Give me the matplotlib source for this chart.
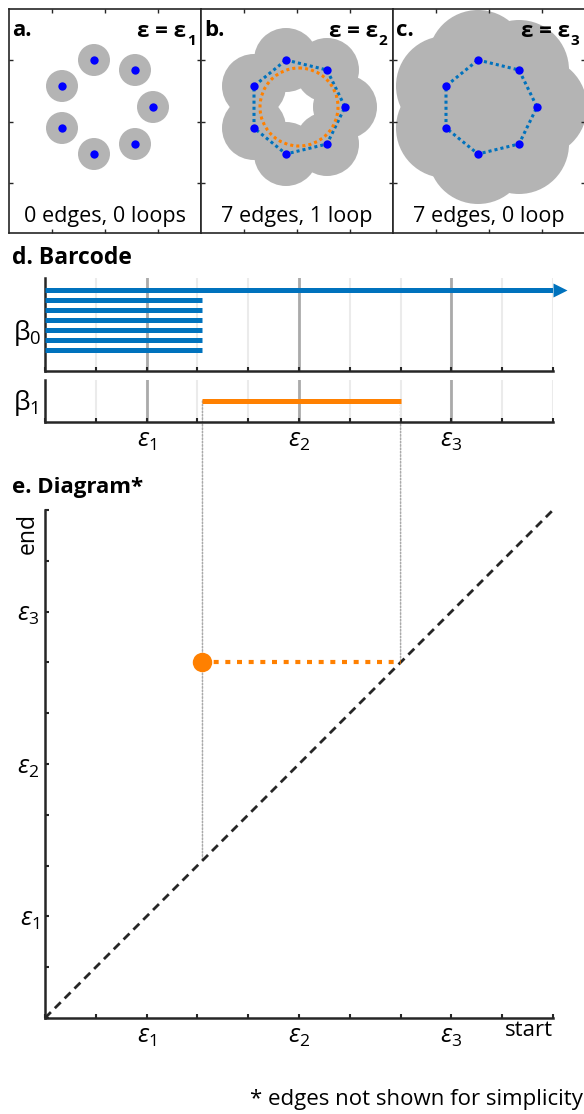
import numpy as np
import matplotlib
matplotlib.use("Agg")
import matplotlib.pyplot as plt
from matplotlib.patches import Circle, ConnectionPatch
from matplotlib.transforms import offset_copy

plt.rcParams['font.family'] = ['Open Sans', 'DejaVu Sans']
plt.rcParams['mathtext.fontset'] = 'custom'
plt.rcParams['mathtext.rm'] = 'Open Sans'
plt.rcParams['mathtext.it'] = 'Open Sans:italic'
plt.rcParams['mathtext.bf'] = 'Open Sans:bold'

W, H, DPI = 584, 1114, 100

# ---------------- data ----------------
# point cloud, in panel units (y grows downward)
cloud_x = [85, 126, 144, 126, 85, 53, 53]
cloud_y = [51, 61, 98, 135, 145, 119, 77]

# filtration scales shown in the three top panels
panel_tags = ['a.', 'b.', 'c.']
panel_eps = ['1', '2', '3']
ball_radius = [16, 32, 50]
panel_caption = ['0 edges, 0 loops', '7 edges, 1 loop', '7 edges, 0 loop']
panel_edges = [False, True, True]

# loop found at scale 2
loop_center = (98, 98)
loop_radius = 39

# persistence barcode / diagram on the filtration axis
filt_max = 10
eps_pos = [2, 5, 8]
eps_labels = [r'$\varepsilon_1$', r'$\varepsilon_2$', r'$\varepsilon_3$']
b0_birth = [0, 0, 0, 0, 0, 0, 0]
b0_death = [np.inf, 3.1, 3.1, 3.1, 3.1, 3.1, 3.1]
b1_birth = [3.1]
b1_death = [7.0]

# ---------------- style ----------------
BLUE = '#0072BD'
DOT = '#0000FF'
ORANGE = '#FF8000'
GREY = '#B4B4B4'
DARK = '#262626'
GUIDE = '#AAAAAA'
LIGHT = '#EBEBEB'

fig = plt.figure(figsize=(W / DPI, H / DPI), dpi=DPI)


def fbox(x0, y0, w, h):
    return [x0 / W, 1 - (y0 + h) / H, w / W, h / H]


def ftext(x, y, s, **kw):
    return fig.text(x / W, 1 - y / H, s, **kw)


# ---------------- a-c: growing balls ----------------
panel_left = [9, 201, 393]
for i in range(3):
    ax = fig.add_axes(fbox(panel_left[i], 9, 192, 224))
    ax.set_xlim(0, 192)
    ax.set_ylim(224, 0)
    for x, y in zip(cloud_x, cloud_y):
        ax.add_patch(Circle((x, y), ball_radius[i], facecolor=GREY, edgecolor='none', zorder=1))
    if panel_edges[i]:
        ax.plot(cloud_x + cloud_x[:1], cloud_y + cloud_y[:1], color=BLUE, lw=2.2,
                dashes=(1, 1), zorder=2)
    if i == 1:
        ax.add_patch(Circle(loop_center, loop_radius, fill=False, edgecolor=ORANGE,
                            lw=2.2, ls=(0, (1, 1)), zorder=2))
    ax.plot(cloud_x, cloud_y, 'o', color=DOT, ms=6, mec='none', zorder=3)
    ax.set_xticks([43, 96, 149])
    ax.set_yticks([51, 113, 174])
    ax.tick_params(direction='in', length=3, width=1, color=DARK, top=True, right=True,
                   labelbottom=False, labelleft=False)
    for s in ax.spines.values():
        s.set_color(DARK)
        s.set_linewidth(1.2)
    ax.text(3, 21, panel_tags[i], fontsize=16, fontweight='bold', va='center', ha='left',
            color='black', zorder=5)
    t = ax.text(177, 28, 'ε = ε', fontsize=16, fontweight='bold',
                ha='right', va='baseline', color='black', zorder=5)
    ax.annotate(panel_eps[i], xy=(1, 0), xycoords=t, xytext=(0.5, -2.5),
                textcoords='offset points', fontsize=11, fontweight='bold',
                ha='left', va='baseline', zorder=5)
    ax.text(96, 213, panel_caption[i], fontsize=15.5, ha='center', va='baseline',
            color='black', zorder=5)

# ---------------- d: barcode ----------------
ax0 = fig.add_axes(fbox(45, 278, 508, 93))
ax1 = fig.add_axes(fbox(45, 380, 508, 42))
for ax in (ax0, ax1):
    ax.set_facecolor('none')
    ax.set_xlim(0, filt_max)
    ticks = list(range(filt_max + 1))
    ax.set_xticks(ticks)
    ax.set_yticks([])
    for tk in ticks[1:]:
        ax.axvline(tk, color=LIGHT, lw=1.5, zorder=0)
    for e in eps_pos:
        ax.axvline(e, color=GUIDE, lw=2.0, zorder=1)
    ax.spines['top'].set_visible(False)
    ax.spines['right'].set_visible(False)
    for s in ('left', 'bottom'):
        ax.spines[s].set_color(DARK)
        ax.spines[s].set_linewidth(1.8)
    ax.tick_params(axis='x', direction='in', length=3, width=1.5, color=DARK)

ax0.set_ylim(-1.1, len(b0_birth) + 1.2)
ax0.set_xticklabels([])
for k, (b, d) in enumerate(zip(b0_birth, b0_death)):
    y = len(b0_birth) - k
    end = filt_max if np.isinf(d) else d
    ax0.plot([b, end], [y, y], color=BLUE, lw=3.6, solid_capstyle='butt', zorder=3)
    if np.isinf(d):
        head = offset_copy(ax0.transData, fig=fig, x=7, y=0, units='dots')
        ax0.plot([end], [y], marker='>', ms=10, color=BLUE, mec='none',
                 transform=head, clip_on=False, zorder=3)

ax1.set_ylim(0, 2)
for k, (b, d) in enumerate(zip(b1_birth, b1_death)):
    ax1.plot([b, d], [1, 1], color=ORANGE, lw=3.6, solid_capstyle='butt', zorder=3)
ax1.set_xticklabels([eps_labels[eps_pos.index(tk)] if tk in eps_pos else '' for tk in range(filt_max + 1)],
                    fontsize=18)
ax1.tick_params(axis='x', pad=4)

ftext(12, 258, 'd. Barcode', fontsize=16.5, fontweight='bold', va='center', ha='left')
ftext(13, 333, r'$\mathrm{β}_0$', fontsize=19, va='center', ha='left')
ftext(13, 403, r'$\mathrm{β}_1$', fontsize=19, va='center', ha='left')

# ---------------- e: persistence diagram ----------------
axd = fig.add_axes(fbox(45, 510, 508, 508))
axd.set_facecolor('none')
axd.set_xlim(0, filt_max)
axd.set_ylim(0, filt_max)
axd.plot([0, filt_max], [0, filt_max], color=DARK, lw=2.0, dashes=(3, 2), zorder=2)
for b, d in zip(b1_birth, b1_death):
    axd.plot([b, d], [d, d], color=ORANGE, lw=3, dashes=(1.2, 1.6), zorder=3)
    axd.plot([b], [d], 'o', color=ORANGE, ms=14, mec='none', zorder=4)
ticks = list(range(filt_max + 1))
lab = [eps_labels[eps_pos.index(tk)] if tk in eps_pos else '' for tk in ticks]
axd.set_xticks(ticks)
axd.set_xticklabels(lab, fontsize=18)
axd.set_yticks(ticks)
axd.set_yticklabels(lab, fontsize=18)
axd.spines['top'].set_visible(False)
axd.spines['right'].set_visible(False)
for s in ('left', 'bottom'):
    axd.spines[s].set_color(DARK)
    axd.spines[s].set_linewidth(1.8)
axd.tick_params(direction='in', length=3, width=1.5, color=DARK, pad=4)

ftext(12, 488, 'e. Diagram*', fontsize=16, fontweight='bold', va='center', ha='left')
ftext(553, 1030, 'start', fontsize=16, va='center', ha='right')
ftext(28, 533, 'end', fontsize=16.5, va='center', ha='center', rotation=90)
ftext(583, 1100, '* edges not shown for simplicity', fontsize=16, va='center', ha='right')

# guides linking the loop bar to its point in the diagram
for b, d in zip(b1_birth, b1_death):
    for x, y in ((b, b), (d, d)):
        con = ConnectionPatch(xyA=(x, 1), coordsA=ax1.transData, xyB=(x, y),
                              coordsB=axd.transData, arrowstyle='-', color=GUIDE,
                              lw=1.1, ls=(0, (1, 1.2)), shrinkA=0, shrinkB=0, zorder=-1)
        fig.add_artist(con)

fig.savefig('out.png', dpi=DPI)
